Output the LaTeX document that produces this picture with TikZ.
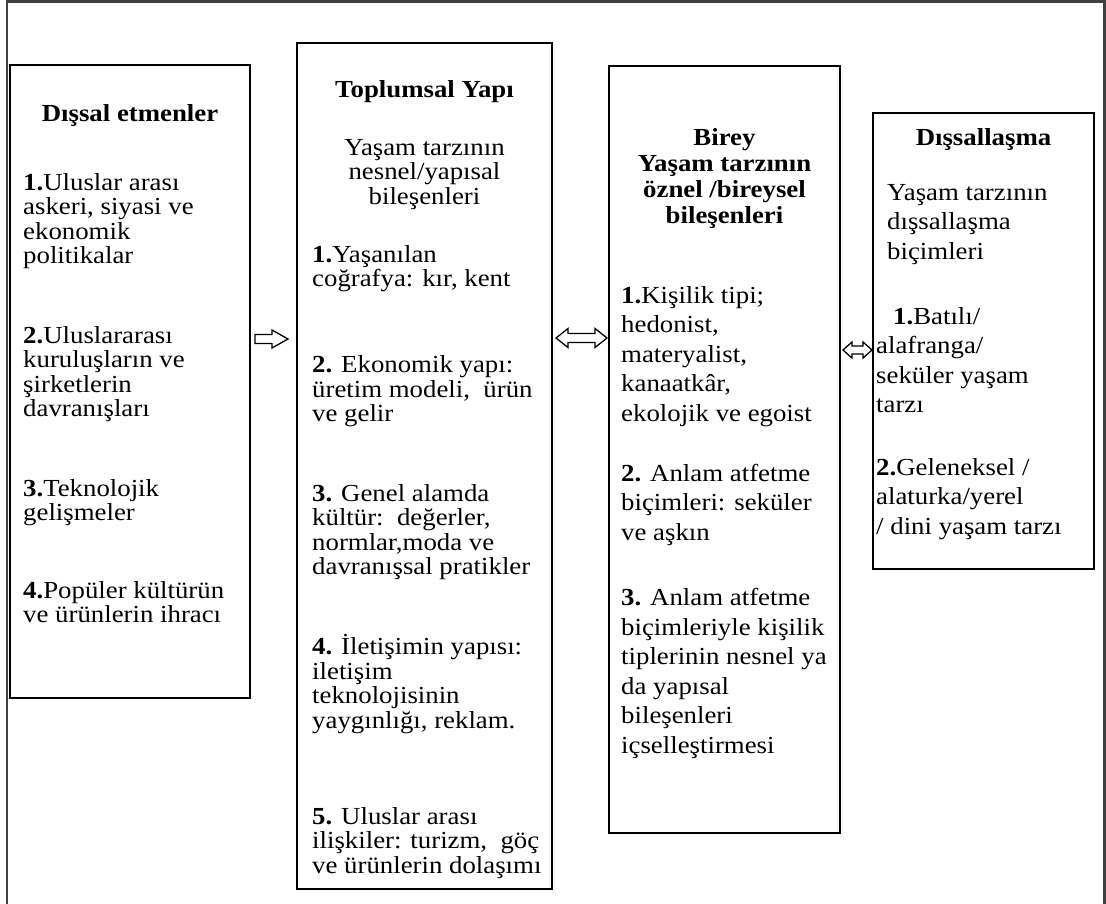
\documentclass[tikz,border=0pt]{standalone}
\usepackage{fontspec}
\setmainfont{Liberation Serif}[FakeStretch=1.094]
\usetikzlibrary{calc}
\begin{document}
\begin{tikzpicture}[x=1pt,y=-1pt,
  framest/.style={draw=black!75, line width=2.4pt},
  boxst/.style={draw=black, line width=2pt, inner sep=0pt, outer sep=0pt, anchor=north west},
  para/.style={anchor=base west, align=left, inner sep=0pt, font=\fontsize{24.5}{24.5}\selectfont},
  parab/.style={anchor=base west, align=left, inner sep=0pt, font=\fontsize{24.5}{29.5}\selectfont},
  centr/.style={anchor=base, align=center, inner sep=0pt, font=\fontsize{24.5}{24.5}\selectfont},
  head/.style={anchor=base, align=center, inner sep=0pt, font=\fontsize{24.5}{26}\selectfont\bfseries},
  harrow/.style={draw=black, line width=1.3pt, fill=white, line join=miter}
]
\useasboundingbox (0,0) rectangle (1106,903);
% outer frame (open at the bottom)
\draw[framest] (7,910) -- (7,1.5) -- (1104.5,1.5) -- (1104.5,910);

% boxes
\node[boxst, minimum width=240pt, minimum height=633pt] (b1) at (10,65) {};
\node[boxst, minimum width=255pt, minimum height=846pt] (b2) at (297,43) {};
\node[boxst, minimum width=231pt, minimum height=767pt] (b3) at (609,66) {};
\node[boxst, minimum width=221pt, minimum height=456pt] (b4) at (873,113) {};

% (multi-line nodes: the base anchor is the baseline of the last line)
% box 1
\node[head] (t1h) at (130,121) {Dışsal etmenler};
\node[para] (t1a) at (23,263.5) {\textbf{1.}Uluslar arası\\askeri, siyasi ve\\ekonomik\\politikalar};
\node[para] (t1b) at (23,416.5) {\textbf{2.}Uluslararası\\kuruluşların ve\\şirketlerin\\davranışları};
\node[para] (t1c) at (23,520.5) {\textbf{3.}Teknolojik\\gelişmeler};
\node[para] (t1d) at (23,622.5) {\textbf{4.}Popüler kültürün\\ve ürünlerin ihracı};

% box 2
\node[head] (t2h) at (424.5,97) {Toplumsal Yapı};
\node[centr] (t2s) at (424.5,204) {Yaşam tarzının\\nesnel/yapısal\\bileşenleri};
\node[para] (t2a) at (312,286.5) {\textbf{1.}Yaşanılan\\coğrafya: kır, kent};
\node[para] (t2b) at (312,421.5) {\textbf{2.} Ekonomik yapı:\\üretim modeli,\ \ ürün\\ve gelir};
\node[para] (t2c) at (312,574.5) {\textbf{3.} Genel alamda\\kültür:\ \ değerler,\\normlar,moda ve\\davranışsal pratikler};
\node[para] (t2d) at (312,728) {\textbf{4.} İletişimin yapısı:\\iletişim\\teknolojisinin\\yaygınlığı, reklam.};
\node[para] (t2e) at (312,873) {\textbf{5.} Uluslar arası\\ilişkiler: turizm,\ \ göç\\ve ürünlerin dolaşımı};

% box 3
\node[head] (t3h) at (724.5,223) {Birey\\Yaşam tarzının\\öznel /bireysel\\bileşenleri};
\node[parab] (t3a) at (621,421) {\textbf{1.}Kişilik tipi;\\hedonist,\\materyalist,\\kanaatkâr,\\ekolojik ve egoist};
\node[parab] (t3b) at (621,540) {\textbf{2.} Anlam atfetme\\biçimleri: seküler\\ve aşkın};
\node[parab] (t3c) at (621,753) {\textbf{3.} Anlam atfetme\\biçimleriyle kişilik\\tiplerinin nesnel ya\\da yapısal\\bileşenleri\\içselleştirmesi};

% box 4
\node[head] (t4h) at (983.5,145) {Dışsallaşma};
\node[parab] (t4s) at (887,259) {Yaşam tarzının\\dışsallaşma\\biçimleri};
\node[parab] (t4a) at (876,412.5) {\hspace*{17pt}\textbf{1.}Batılı/\\alafranga/\\seküler yaşam\\tarzı};
\node[parab] (t4b) at (876,534) {\textbf{2.}Geleneksel /\\alaturka/yerel\\/ dini yaşam tarzı};

% hollow block arrows between the boxes
\coordinate (a1s) at ($(b1.east |- 0,339)+(5,0)$);
\coordinate (a1e) at (288,339);
\draw[harrow] (a1s) -- ++(0,-4.5) -- ++(17,0) -- ++(0,-4.5) -- (a1e) -- ++(-16,9) -- ++(0,-4.5) -- ++(-17,0) -- cycle;

\coordinate (a2s) at (556,338);
\coordinate (a2e) at (607,338);
\draw[harrow] (a2s) -- ++(12,-9.5) -- ++(0,5) -- ++(27,0) -- ++(0,-5) -- (a2e) -- ++(-12,9.5) -- ++(0,-5) -- ++(-27,0) -- ++(0,5) -- cycle;

\coordinate (a3s) at (843,350);
\coordinate (a3e) at (872,350);
\draw[harrow] (a3s) -- ++(9,-8) -- ++(0,4) -- ++(11,0) -- ++(0,-4) -- (a3e) -- ++(-9,8) -- ++(0,-4) -- ++(-11,0) -- ++(0,4) -- cycle;
\end{tikzpicture}
\end{document}
